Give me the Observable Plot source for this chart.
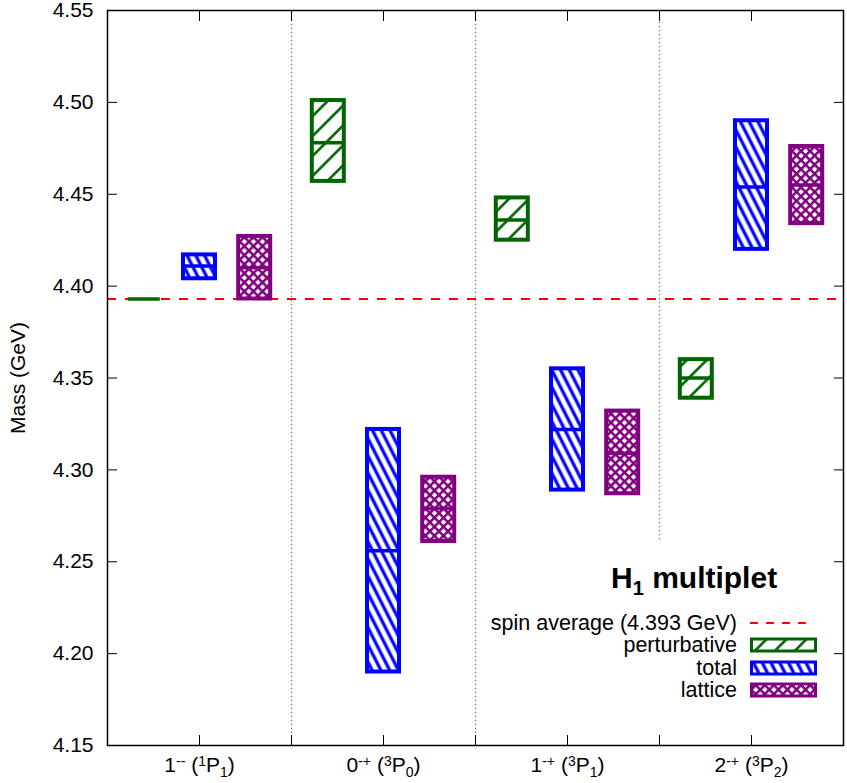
<!DOCTYPE html>
<html><head><meta charset="utf-8">
<script src="https://cdn.jsdelivr.net/npm/d3@7"></script>
<script src="https://cdn.jsdelivr.net/npm/@observablehq/plot@0.6"></script>
<style>
body{margin:0;background:#fff;}
#wrap{position:relative;width:847px;height:783px;}
#wrap svg.legend{position:absolute;left:0;top:0;pointer-events:none;}
</style></head><body>
<svg width="0" height="0" style="position:absolute">
<defs>
<pattern id="hatch-green" patternUnits="userSpaceOnUse" width="14.1" height="14.1" patternTransform="rotate(45)">
<rect width="14.1" height="14.1" fill="white"/>
<line x1="7" y1="-1" x2="7" y2="15.1" stroke="#006400" stroke-width="2.6"/>
</pattern>
<pattern id="hatch-blue" patternUnits="userSpaceOnUse" width="7.8" height="7.8" patternTransform="rotate(-27)">
<rect width="7.8" height="7.8" fill="white"/>
<line x1="3.9" y1="-1" x2="3.9" y2="8.8" stroke="#0000ff" stroke-width="3.2"/>
</pattern>
<pattern id="hatch-purple" patternUnits="userSpaceOnUse" width="6.4" height="6.4" patternTransform="rotate(45)">
<rect width="6.4" height="6.4" fill="white"/>
<line x1="0" y1="0" x2="6.4" y2="0" stroke="#800080" stroke-width="5"/>
<line x1="0" y1="0" x2="0" y2="6.4" stroke="#800080" stroke-width="5"/>
</pattern>
</defs></svg>
<div id="wrap"></div>
<script>
// ---- data ----
const categories = [1, 2, 3, 4];
const jpcMain = ["1", "0", "1", "2"];
const jpcSup = ["--", "-+", "-+", "-+"];
const specMult = ["1", "3", "3", "3"];
const specJ = ["1", "0", "1", "2"];
const separators = [1.5, 2.5, 3.5];
const separatorBottom = [4.15, 4.15, 4.262];
const spinAverage = 4.393;
const perturbLow  = [4.393, 4.457, 4.425, 4.339];
const perturbMid  = [4.393, 4.478, 4.436, 4.350];
const perturbHigh = [4.393, 4.501, 4.448, 4.360];
const totalLow  = [4.404, 4.190, 4.289, 4.420];
const totalMid  = [4.411, 4.256, 4.322, 4.454];
const totalHigh = [4.417, 4.322, 4.355, 4.490];
const latticeLow  = [4.393, 4.261, 4.287, 4.434];
const latticeMid  = [4.410, 4.279, 4.309, 4.455];
const latticeHigh = [4.427, 4.296, 4.332, 4.476];
const yTicks = [4.15, 4.20, 4.25, 4.30, 4.35, 4.40, 4.45, 4.50, 4.55];
const xTicks = [1, 1.5, 2, 2.5, 3, 3.5, 4];

const series = [
  {name: "perturbative", low: perturbLow, mid: perturbMid, high: perturbHigh, color: "#006400", fill: "url(#hatch-green)", offset: -0.3},
  {name: "total", low: totalLow, mid: totalMid, high: totalHigh, color: "#0000ff", fill: "url(#hatch-blue)", offset: 0},
  {name: "lattice", low: latticeLow, mid: latticeMid, high: latticeHigh, color: "#800080", fill: "url(#hatch-purple)", offset: 0.3}
];
const HALF = 0.087;
const FONT = "'Liberation Sans', Arial, Helvetica, sans-serif";

const boxMarks = series.flatMap(s => {
  const rows = categories.map((c, i) => ({x: c + s.offset, low: s.low[i], mid: s.mid[i], high: s.high[i]}));
  return [
    Plot.rect(rows, {x1: d => d.x - HALF, x2: d => d.x + HALF, y1: "low", y2: "high", fill: s.fill, stroke: s.color, strokeWidth: 4}),
    Plot.ruleY(rows, {y: "mid", x1: d => d.x - HALF, x2: d => d.x + HALF, stroke: s.color, strokeWidth: 3.5})
  ];
});

const sepRows = separators.map((x, i) => ({x, y1: separatorBottom[i]}));

const chart = Plot.plot({
  width: 847, height: 783,
  marginLeft: 107, marginRight: 4, marginTop: 10, marginBottom: 38,
  style: {fontFamily: FONT, fontSize: "21px", color: "black", background: "white", overflow: "visible"},
  x: {domain: [0.5, 4.5], axis: null},
  y: {domain: [4.15, 4.55], axis: null},
  marks: [
    Plot.ruleX(sepRows, {x: "x", y1: "y1", y2: () => 4.55, stroke: "#777", strokeWidth: 1.3, strokeDasharray: "1.3 2.7"}),
    Plot.ruleY([spinAverage], {stroke: "#ff0000", strokeWidth: 2, strokeDasharray: "9 9"}),
    ...boxMarks,
    Plot.axisY({anchor: "left", ticks: yTicks, tickSize: -10, tickPadding: 24, tickFormat: d3.format(".2f"),
      label: "Mass (GeV)", labelAnchor: "center", labelOffset: 97, labelArrow: false, fontSize: 21}),
    Plot.axisY({anchor: "right", ticks: yTicks, tickSize: -10, tickFormat: () => "", label: null}),
    Plot.axisX({anchor: "bottom", ticks: xTicks, tickSize: -10, tickPadding: 22,
      tickFormat: d => Number.isInteger(d) ? String(d) : "", label: null, fontSize: 21}),
    Plot.axisX({anchor: "top", ticks: xTicks, tickSize: -10, tickFormat: () => "", label: null}),
    Plot.frame({stroke: "black", strokeWidth: 1.5})
  ]
});

// rich x tick labels (superscripts / subscripts)
d3.select(chart).selectAll('g[aria-label="x-axis tick label"] text').each(function() {
  const t = d3.select(this);
  const v = t.text().trim();
  if (!v) return;
  const i = categories.indexOf(+v);
  if (i < 0) return;
  t.text(null);
  t.append("tspan").text(jpcMain[i]);
  t.append("tspan").attr("font-size", 14).attr("dy", "-0.45em").text(jpcSup[i]);
  t.append("tspan").attr("dy", "0.3em").text(" (");
  t.append("tspan").attr("font-size", 14).attr("dy", "-0.45em").text(specMult[i]);
  t.append("tspan").attr("dy", "0.3em").text("P");
  t.append("tspan").attr("font-size", 14).attr("dy", "0.3em").text(specJ[i]);
  t.append("tspan").attr("dy", "-0.2em").text(")");
});

const wrap = document.getElementById("wrap");
wrap.appendChild(chart);

// legend overlay
const lg = d3.select(wrap).append("svg").attr("class", "legend")
  .attr("width", 847).attr("height", 783).attr("font-family", FONT);
const title = lg.append("text").attr("x", 611).attr("y", 588).attr("font-size", 30).attr("font-weight", "bold");
title.append("tspan").text("H");
title.append("tspan").attr("font-size", 20).attr("dy", 7).text("1");
title.append("tspan").attr("dy", -7).text(" multiplet");

const entries = [{label: `spin average (${spinAverage} GeV)`, dashed: true, color: "#ff0000"}, ...series];
const baselines = [630, 652, 675, 697];
entries.forEach((e, i) => {
  const label = e.label || e.name;
  lg.append("text").attr("x", 737).attr("y", baselines[i]).attr("text-anchor", "end").attr("font-size", 21.5).text(label);
  const cy = baselines[i] - 7;
  if (e.dashed) {
    lg.append("line").attr("x1", 750).attr("x2", 812).attr("y1", cy).attr("y2", cy)
      .attr("stroke", e.color).attr("stroke-width", 2).attr("stroke-dasharray", "8 8");
  } else {
    lg.append("rect").attr("x", 751.5).attr("y", cy - 6).attr("width", 64).attr("height", 12)
      .attr("fill", e.fill).attr("stroke", e.color).attr("stroke-width", 3);
  }
});
</script>
</body></html>
